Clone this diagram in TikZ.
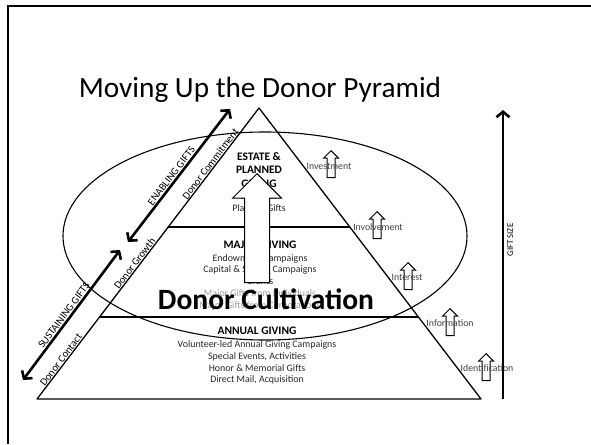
\documentclass[tikz,border=0pt]{standalone}
\usepackage{fontspec}
\setmainfont{Carlito}
\usetikzlibrary{arrows.meta, positioning, shapes.arrows, calc}

\begin{document}
\begin{tikzpicture}[
  x=1pt, y=-1pt,
  every node/.style={font=\fontsize{9.9}{11.8}\selectfont, inner sep=1pt},
  band/.style={align=center, text=black!85},
  head/.style={align=center, font=\bfseries\fontsize{11.5}{13.5}\selectfont},
  edge/.style={line width=1.3pt, line join=round},
  divider/.style={line width=2.6pt},
  gift/.style={line width=2.6pt, {Straight Barb[length=5.5pt,width=13pt]}-{Straight Barb[length=5.5pt,width=13pt]}},
  sizearrow/.style={line width=2.6pt, -{Straight Barb[length=5.5pt,width=13pt]}},
  stage/.style={single arrow, draw, line width=1pt, rotate=90, anchor=tip, minimum height=27pt,
    inner xsep=0pt, inner ysep=3.5pt, single arrow head extend=3.5pt, single arrow head indent=0pt},
  stagelbl/.style={text=black!75, font=\fontsize{9.8}{10}\selectfont},
  side/.style={rotate=52.8, anchor=south, font=\fontsize{10.5}{11}\selectfont}
]
\useasboundingbox (0,0) rectangle (591,444);

% Slide frame
\draw[line width=1.6pt] (8,444) -- (8,6) -- (591,6);

% Title
\node[font=\fontsize{29.3}{32}\selectfont, anchor=base] (title) at (260,97) {Moving Up the Donor Pyramid};

% Cultivation ellipse
\draw[line width=1.1pt] (265,236) ellipse [x radius=202, y radius=104];

% Pyramid
\coordinate (apex) at (259,108);
\coordinate (bl) at (37,399);
\coordinate (br) at (481,399);
\draw[edge] (bl) -- (apex) -- (br) -- cycle;

% Level dividers
\coordinate (upL) at ($(bl)!0.591!(apex)$);
\coordinate (upR) at ($(br)!0.591!(apex)$);
\coordinate (loL) at ($(bl)!0.282!(apex)$);
\coordinate (loR) at ($(br)!0.282!(apex)$);
\draw[divider] (upL) -- (upR);
\draw[divider] (loL) -- (loR);

% Levels
\node[head] (estate) at (259,170) {ESTATE \&\\PLANNED\\GIVING};
\node[band, below=3pt of estate] (estateList) {Bequests\\Planned Gifts};

\node[head] (major) at (260,245) {MAJOR GIVING};
\node[band, below=3pt of major] (majorList) {Endowment Campaigns\\Capital \& Special Campaigns\\Grants\\Major Gifts from Individuals\\Major Gifts from Corporations};

\node[head] (annual) at (257,331) {ANNUAL GIVING};
\node[band, below=3.5pt of annual] (annualList) {Volunteer-led Annual Giving Campaigns\\Special Events, Activities\\Honor \& Memorial Gifts\\Direct Mail, Acquisition};

% Big cultivation arrow
\node[single arrow, draw, line width=1pt, fill=white, rotate=90, anchor=tip, minimum height=109pt,
  inner xsep=0pt, inner ysep=12pt, single arrow head extend=12pt, single arrow head indent=0pt] (bigArrow) at (257,173) {};
\node[fill=white, fill opacity=0.55, text opacity=1, inner sep=0pt,
  font=\bfseries\fontsize{29.5}{31}\selectfont] (cultivation) at (266,299) {Donor Cultivation};

% Stages on the right
\node[stage] (aInvest) at (331,150) {};
\node[stage] (aInvolve) at (377,211) {};
\node[stage] (aInterest) at (408,262) {};
\node[stage] (aInform) at (450,308) {};
\node[stage] (aIdent) at (486,353) {};
\node[stagelbl] (lInvest) at ($(aInvest.tip)+(-2,16)$) {Investment};
\node[stagelbl] (lInvolve) at ($(aInvolve.tip)+(1,16)$) {Involvement};
\node[stagelbl] (lInterest) at ($(aInterest.tip)+(-1,15)$) {Interest};
\node[stagelbl] (lInform) at ($(aInform.tip)+(0,15)$) {Information};
\node[stagelbl] (lIdent) at ($(aIdent.tip)+(1,15)$) {Identification};

% Gift size
\coordinate (gsBot) at (503,399);
\coordinate (gsTop) at (503,110);
\draw[sizearrow] (gsBot) -- node[pos=0.55, sloped, below=2pt, font=\fontsize{8.8}{10}\selectfont] (gsLbl) {GIFT SIZE} (gsTop);

% Donor stages along the left side
\node[side] (dContact) at ($(bl)!0.125!(apex)$) {Donor Contact};
\node[side] (dGrowth) at ($(bl)!0.457!(apex)$) {Donor Growth};
\node[side] (dCommit) at ($(bl)!0.798!(apex)$) {Donor Commitment};

% Gift arrows
\coordinate (suLo) at (23,380);
\coordinate (suHi) at (120,250);
\coordinate (enLo) at (128,242);
\coordinate (enHi) at (230,109);
\draw[gift] (suLo) -- node[pos=0.47, sloped, above, font=\fontsize{10.5}{11}\selectfont] (suLbl) {SUSTAINING GIFTS} (suHi);
\draw[gift] (enLo) -- node[pos=0.47, sloped, above, font=\fontsize{10.5}{11}\selectfont] (enLbl) {ENABLING GIFTS} (enHi);

\end{tikzpicture}
\end{document}
